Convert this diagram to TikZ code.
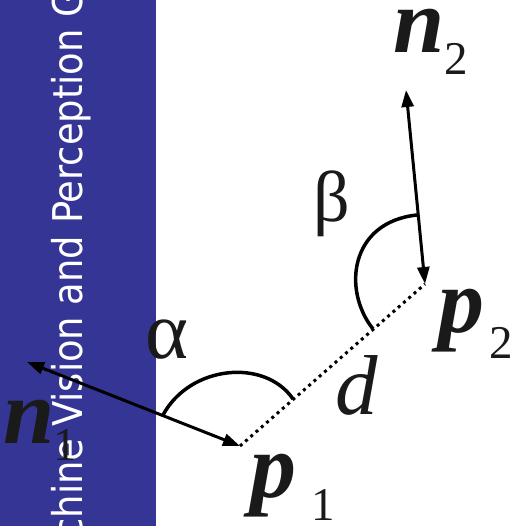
\documentclass[tikz,border=0pt]{standalone}
\usepackage{fontspec}
\setmainfont{Liberation Serif}
\newfontfamily\bandfont{DejaVu Sans Condensed}
\usetikzlibrary{arrows.meta}
\definecolor{band}{HTML}{353596}
\definecolor{ink}{HTML}{1A1A1A}
\tikzset{
  vec/.style={line width=3pt, {Triangle[length=17pt,width=12pt]}-{Triangle[length=17pt,width=12pt]}},
  dist/.style={line width=3pt, dash pattern=on 3pt off 4pt},
  anglearc/.style={line width=3.5pt},
  lbl/.style={inner sep=0pt, text=ink, anchor=base west},
  bigbi/.style={lbl, font=\fontsize{92}{92}\selectfont\bfseries\itshape},
  subs/.style={lbl, font=\fontsize{47}{47}\selectfont},
  greek/.style={inner sep=0pt, text=ink, font=\fontsize{82}{82}\selectfont}
}
\begin{document}
\begin{tikzpicture}[x=1pt,y=-1pt]
\useasboundingbox (0,0) rectangle (519,526);
\fill[band] (0,0) rectangle (156,526);
\begin{scope}
\clip (0,0) rectangle (156,526);
\node[rotate=90, anchor=base west, inner sep=0pt, text=white, font=\bandfont\fontsize{41}{41}\selectfont] (title) at (82,593) {Machine Vision and Perception Group};
\end{scope}
% points
\coordinate (p1) at (240,446);
\coordinate (p2) at (425,284);
\coordinate (n1tip) at (27,362);
\coordinate (n2tip) at (406,90);
% dotted distance
\draw[dist] (p1) -- (p2);
% normals
\draw[vec] (n1tip) -- (p1);
\draw[vec] (n2tip) -- (p2);
% angle arcs
\coordinate (a1) at (163,415);
\coordinate (a2) at (293,399);
\draw[anglearc] (a1) .. controls (190,365) and (265,358) .. (a2);
\coordinate (b1) at (417,215);
\coordinate (b2) at (373,329);
\draw[anglearc] (b1) .. controls (350,222) and (342,290) .. (b2);
% labels
\node[bigbi] (n2) at (393,53) {n};
\node[subs] (n2s) at (444,75) {2};
\node[bigbi] (pp2) at (438,332) {p};
\node[subs] (pp2s) at (489,358) {2};
\node[bigbi] (pp1) at (250,497) {p};
\node[subs] (pp1s) at (311,520) {1};
\node[bigbi] (nn1) at (3,443) {n};
\node[subs] (nn1s) at (53,460) {1};
\node[greek] (alpha) at (167,340) {α};
\node[greek, font=\fontsize{72}{72}\selectfont] (beta) at (332,204) {β};
\node[lbl, font=\fontsize{85}{85}\selectfont\itshape] (d) at (335,414) {d};
\end{tikzpicture}
\end{document}
